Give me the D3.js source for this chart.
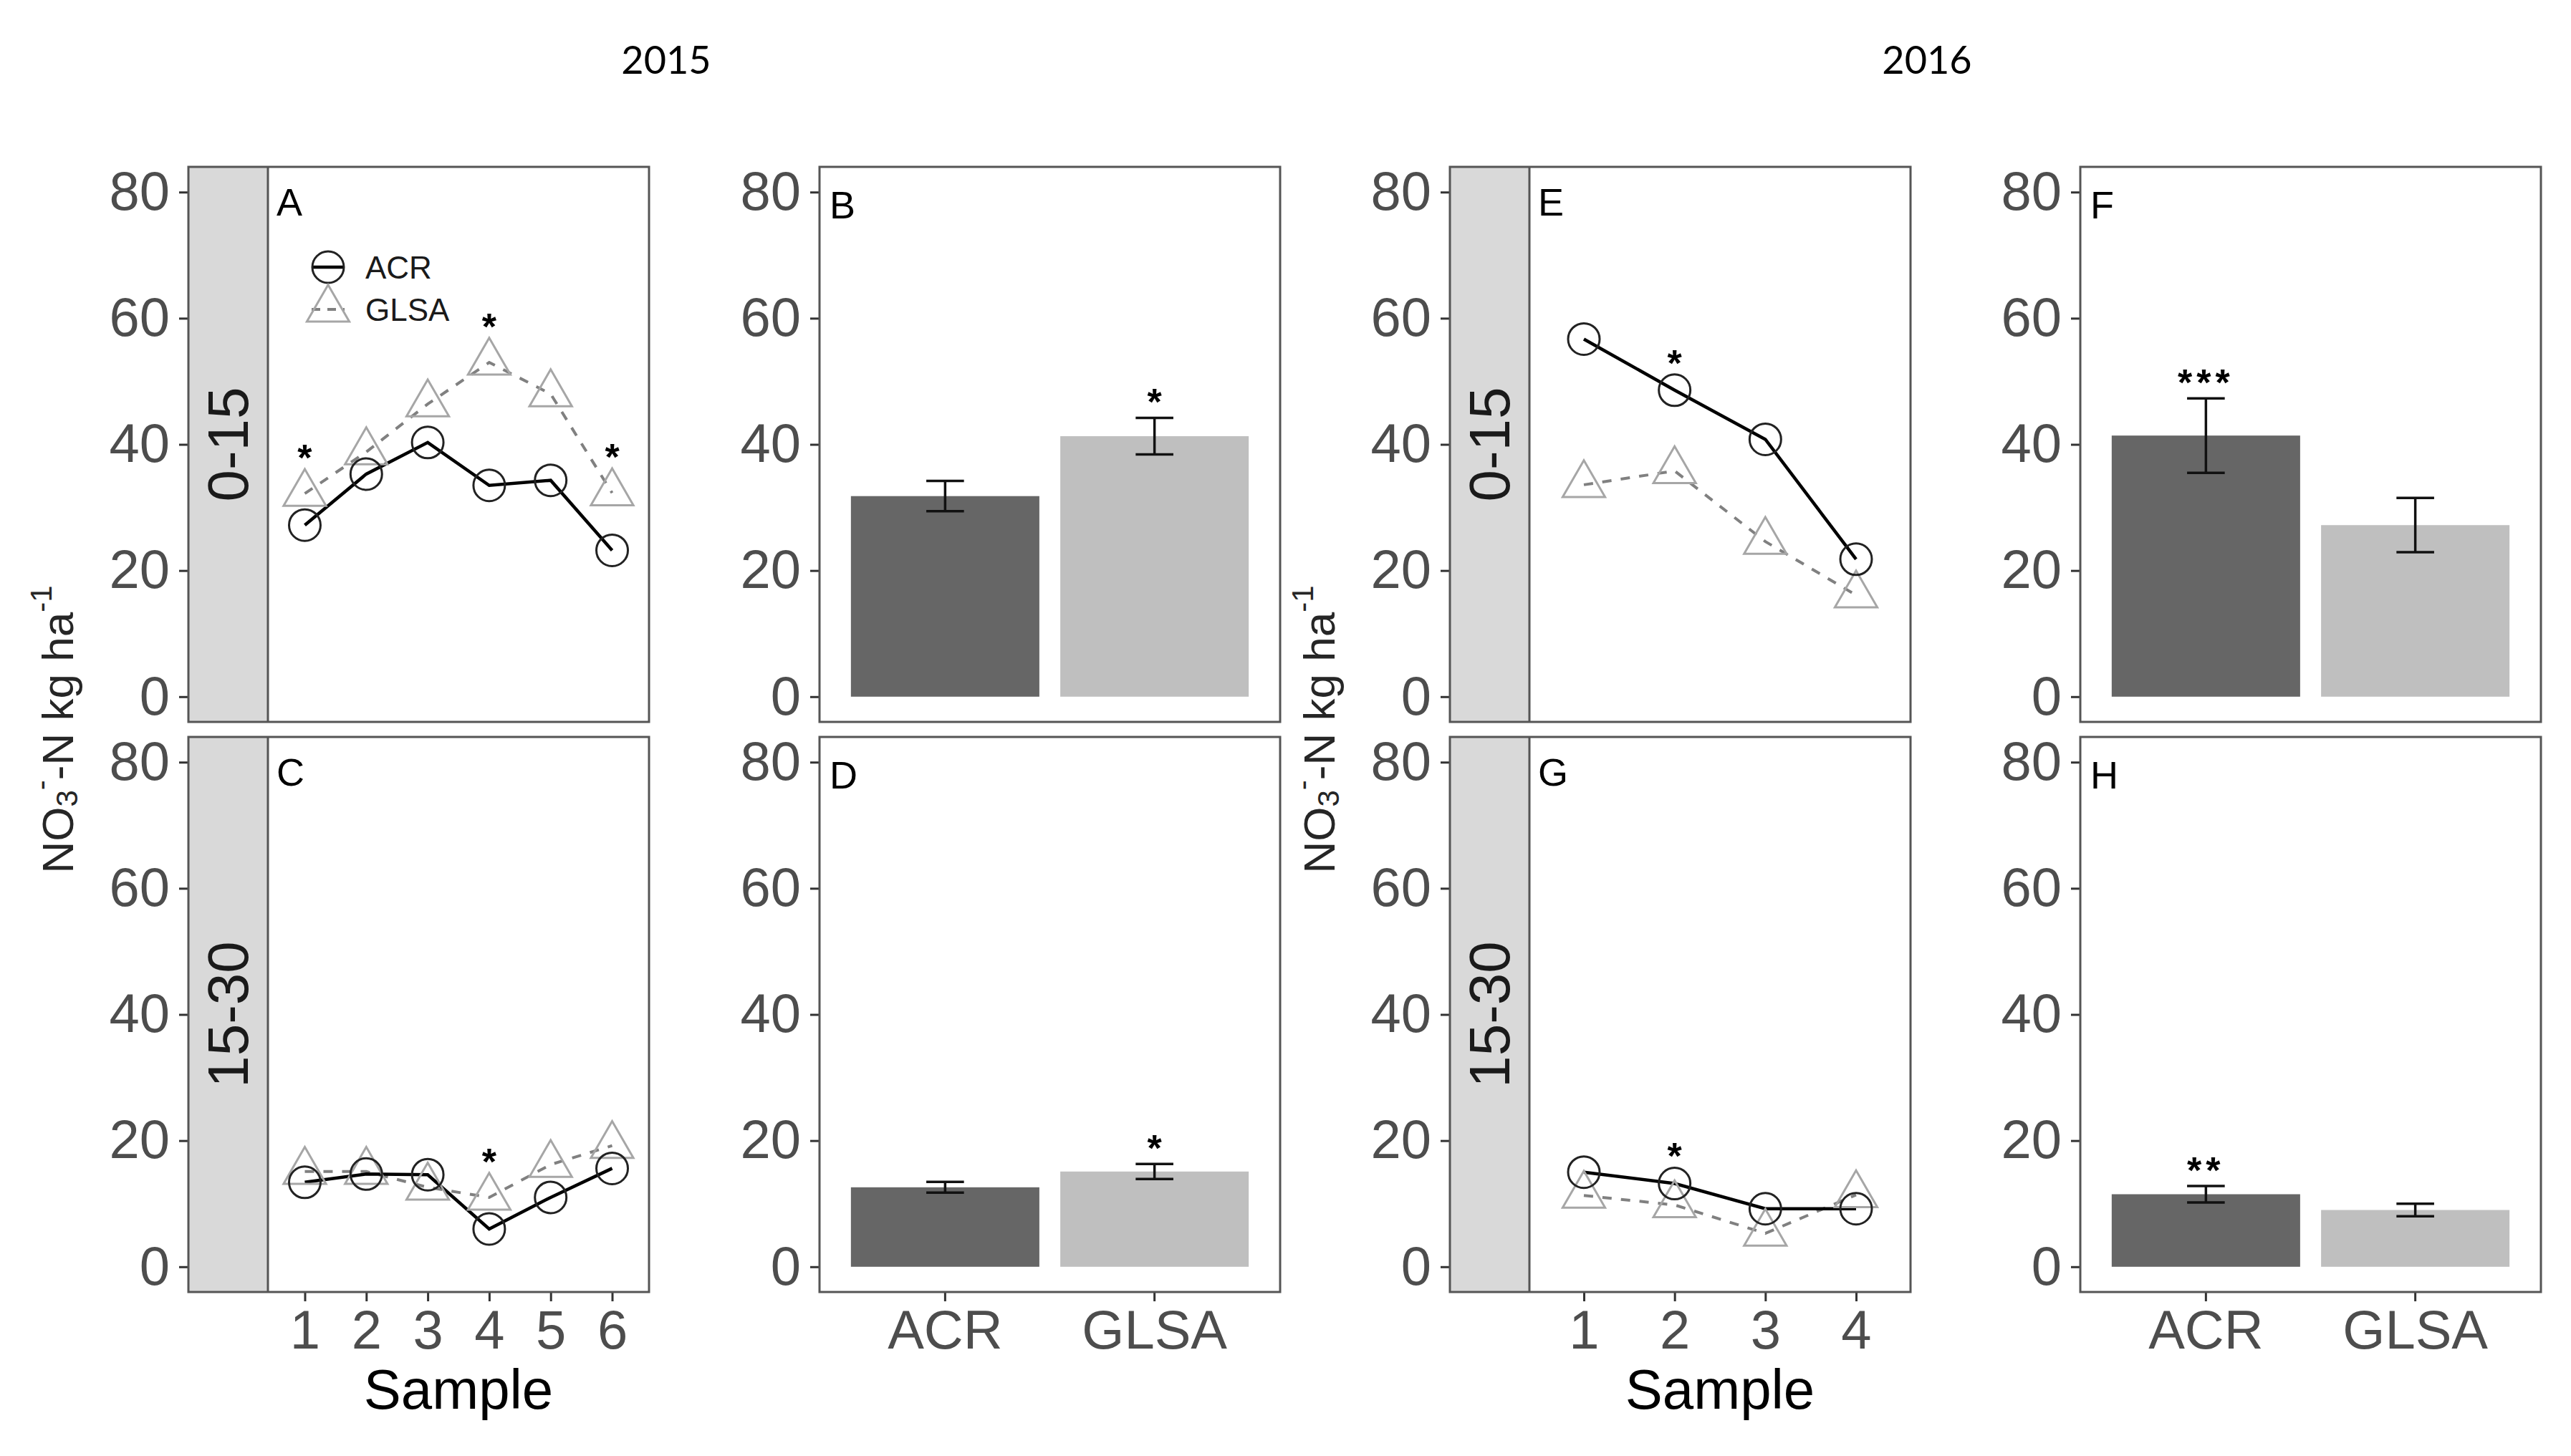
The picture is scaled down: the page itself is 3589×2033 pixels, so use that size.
<!DOCTYPE html>
<html>
<head>
<meta charset="utf-8">
<script src="https://cdn.jsdelivr.net/npm/d3@7"></script>
<style>
  body { margin: 0; background: #fff; }
  svg { display: block; }
</style>
</head>
<body>
<svg id="fig" width="3589" height="2033"></svg>
<script>
    // ---- data ----
    var samples2015 = [1, 2, 3, 4, 5, 6];
    var samples2016 = [1, 2, 3, 4];
    var treatments = ["ACR", "GLSA"];
    var yTicks = [0, 20, 40, 60, 80];

    // 2015, 0-15 cm (A) and 15-30 cm (C)
    var acrA = [27.2, 35.3, 40.3, 33.5, 34.3, 23.2];
    var glsaA = [32.2, 38.8, 46.4, 53.0, 48.0, 32.3];
    var sigA = [{ s: 1, lab: "*" }, { s: 4, lab: "*" }, { s: 6, lab: "*" }];
    var acrC = [13.4, 14.7, 14.6, 6.0, 11.0, 15.6];
    var glsaC = [15.1, 15.1, 12.6, 11.0, 16.2, 19.2];
    var sigC = [{ s: 4, lab: "*" }];

    // 2015 means (B, D)
    var meanB = [31.8, 41.3], seB = [2.4, 2.9], sigB = ["", "*"];
    var meanD = [12.6, 15.1], seD = [0.85, 1.2], sigD = ["", "*"];

    // 2016, 0-15 cm (E) and 15-30 cm (G)
    var acrE = [56.7, 48.6, 40.8, 21.8];
    var glsaE = [33.6, 35.8, 24.6, 16.1];
    var sigE = [{ s: 2, lab: "*" }];
    var acrG = [15.0, 13.2, 9.2, 9.2];
    var glsaG = [11.3, 9.8, 5.3, 11.4];
    var sigG = [{ s: 2, lab: "*" }];

    // 2016 means (F, H)
    var meanF = [41.4, 27.2], seF = [5.9, 4.3], sigF = ["***", ""];
    var meanH = [11.5, 9.0], seH = [1.3, 1.0], sigH = ["**", ""];

    // ---- layout ----
    var colLeft = [263, 1144, 2024, 2904];
    var rowTop = [233, 1029];
    var panelW = 643, panelH = 775, stripW = 111;
    var sans = "'Liberation Sans', Arial, sans-serif";
    var frameCol = "#555555";
    var tickCol = "#333333";
    var barCols = ["#666666", "#bfbfbf"];
    var symUnit = 22; // R pch size unit

    var svg = d3.select("#fig");

    function yScale() {
        return d3.scaleLinear().domain([-4, 84]).range([panelH, 0]);
    }

    function styleAxis(ax) {
        ax.select(".domain").remove();
        ax.attr("font-size", 76).attr("font-family", sans);
        ax.selectAll(".tick line").attr("stroke", tickCol).attr("stroke-width", 3);
        ax.selectAll(".tick text").attr("fill", "#4d4d4d");
    }

    function trianglePath(cx, cy, u) {
        var r = 1.5551 * u, yc = 0.7776 * u, xc = 1.3468 * u;
        return "M" + cx + "," + (cy - r) + "L" + (cx + xc) + "," + (cy + yc) + "L" + (cx - xc) + "," + (cy + yc) + "Z";
    }

    function star(g, x, yCenter, lab) {
        var fs = 52;
        g.append("text")
            .attr("x", x)
            .attr("y", yCenter + 0.575 * fs)
            .attr("text-anchor", "middle")
            .attr("font-family", sans)
            .attr("font-weight", "bold")
            .attr("font-size", fs)
            .attr("letter-spacing", lab.length > 1 ? 6 : 0)
            .text(lab);
    }

    function frame(g) {
        g.append("rect")
            .attr("x", 0).attr("y", 0)
            .attr("width", panelW).attr("height", panelH)
            .attr("fill", "none")
            .attr("stroke", frameCol)
            .attr("stroke-width", 3);
    }

    function panelLabel(g, x, y, lab) {
        g.append("text")
            .attr("x", x).attr("y", y)
            .attr("font-family", sans)
            .attr("font-size", 54)
            .attr("fill", "#000")
            .text(lab);
    }

    function linePanel(col, row, samples, acr, glsa, sig, letter, stripLab, showX, showLegend) {
        var g = svg.append("g").attr("transform", "translate(" + colLeft[col] + "," + rowTop[row] + ")");
        var x = d3.scalePoint().domain(samples).range([stripW, panelW]).padding(0.6);
        var y = yScale();

        g.append("rect")
            .attr("x", 0).attr("y", 0)
            .attr("width", stripW).attr("height", panelH)
            .attr("fill", "#d9d9d9");

        g.append("text")
            .attr("transform", "translate(" + (stripW / 2) + "," + (panelH / 2) + ") rotate(-90)")
            .attr("text-anchor", "middle")
            .attr("dominant-baseline", "central")
            .attr("font-family", sans)
            .attr("font-size", 80)
            .attr("fill", "#1a1a1a")
            .text(stripLab);

        var ay = g.append("g").call(d3.axisLeft(y).tickValues(yTicks).tickSize(13).tickPadding(13));
        styleAxis(ay);

        if (showX) {
            var ax = g.append("g")
                .attr("transform", "translate(0," + panelH + ")")
                .call(d3.axisBottom(x).tickSize(13).tickPadding(12));
            styleAxis(ax);
            g.append("text")
                .attr("x", (stripW + panelW) / 2)
                .attr("y", panelH + 163)
                .attr("text-anchor", "middle")
                .attr("font-family", sans)
                .attr("font-size", 78)
                .attr("fill", "#000")
                .text("Sample");
        }

        var line = d3.line()
            .x(function (d, i) { return x(samples[i]); })
            .y(function (d) { return y(d); });

        g.append("path").datum(glsa)
            .attr("d", line)
            .attr("fill", "none")
            .attr("stroke", "#808080")
            .attr("stroke-width", 4)
            .attr("stroke-dasharray", "13,13");

        g.append("path").datum(acr)
            .attr("d", line)
            .attr("fill", "none")
            .attr("stroke", "#000")
            .attr("stroke-width", 4.5);

        g.selectAll("path.tri").data(glsa).enter()
            .append("path")
            .attr("class", "tri")
            .attr("d", function (d, i) { return trianglePath(x(samples[i]), y(d), symUnit); })
            .attr("fill", "none")
            .attr("stroke", "#a6a6a6")
            .attr("stroke-width", 3);

        g.selectAll("circle.pt").data(acr).enter()
            .append("circle")
            .attr("class", "pt")
            .attr("cx", function (d, i) { return x(samples[i]); })
            .attr("cy", function (d) { return y(d); })
            .attr("r", symUnit)
            .attr("fill", "none")
            .attr("stroke", "#222")
            .attr("stroke-width", 3);

        sig.forEach(function (s) {
            var i = samples.indexOf(s.s);
            var topMark = Math.min(y(acr[i]) - symUnit, y(glsa[i]) - 1.5551 * symUnit);
            star(g, x(s.s), topMark - 28, s.lab);
        });

        if (showLegend) {
            var lx = 195, ly1 = 140, ly2 = 199;
            g.append("line")
                .attr("x1", lx - 23).attr("x2", lx + 23)
                .attr("y1", ly1).attr("y2", ly1)
                .attr("stroke", "#000").attr("stroke-width", 4.5);
            g.append("circle")
                .attr("cx", lx).attr("cy", ly1).attr("r", symUnit)
                .attr("fill", "none").attr("stroke", "#222").attr("stroke-width", 3);
            g.append("line")
                .attr("x1", lx - 23).attr("x2", lx + 23)
                .attr("y1", ly2).attr("y2", ly2)
                .attr("stroke", "#808080").attr("stroke-width", 4)
                .attr("stroke-dasharray", "12,10");
            g.append("path")
                .attr("d", trianglePath(lx, ly2, symUnit))
                .attr("fill", "none").attr("stroke", "#a6a6a6").attr("stroke-width", 3);
            [["ACR", ly1], ["GLSA", ly2]].forEach(function (d) {
                g.append("text")
                    .attr("x", 247).attr("y", d[1])
                    .attr("dominant-baseline", "central")
                    .attr("font-family", sans)
                    .attr("font-size", 44)
                    .attr("fill", "#1a1a1a")
                    .text(d[0]);
            });
        }

        g.append("line")
            .attr("x1", stripW).attr("x2", stripW)
            .attr("y1", 0).attr("y2", panelH)
            .attr("stroke", frameCol).attr("stroke-width", 3);
        frame(g);
        panelLabel(g, stripW + 12, 68, letter);
    }

    function barPanel(col, row, means, ses, sig, letter, showX) {
        var g = svg.append("g").attr("transform", "translate(" + colLeft[col] + "," + rowTop[row] + ")");
        var x = d3.scaleBand().domain(treatments).range([0, panelW]).paddingInner(0.1).paddingOuter(0.15);
        var y = yScale();

        var ay = g.append("g").call(d3.axisLeft(y).tickValues(yTicks).tickSize(13).tickPadding(13));
        styleAxis(ay);

        if (showX) {
            var ax = g.append("g")
                .attr("transform", "translate(0," + panelH + ")")
                .call(d3.axisBottom(x).tickSize(13).tickPadding(12));
            styleAxis(ax);
        }

        g.selectAll("rect.bar").data(means).enter()
            .append("rect")
            .attr("class", "bar")
            .attr("x", function (d, i) { return x(treatments[i]); })
            .attr("width", x.bandwidth())
            .attr("y", function (d) { return y(d); })
            .attr("height", function (d) { return y(0) - y(d); })
            .attr("fill", function (d, i) { return barCols[i]; });

        var cap = x.step() * 0.09;
        means.forEach(function (m, i) {
            var cx = x(treatments[i]) + x.bandwidth() / 2;
            var lo = y(m - ses[i]), hi = y(m + ses[i]);
            var eg = g.append("g").attr("stroke", "#111").attr("stroke-width", 3.5);
            eg.append("line").attr("x1", cx).attr("x2", cx).attr("y1", lo).attr("y2", hi);
            eg.append("line").attr("x1", cx - cap).attr("x2", cx + cap).attr("y1", lo).attr("y2", lo);
            eg.append("line").attr("x1", cx - cap).attr("x2", cx + cap).attr("y1", hi).attr("y2", hi);
            if (sig[i]) star(g, cx, hi - 34, sig[i]);
        });

        frame(g);
        panelLabel(g, 14, 72, letter);
    }

    linePanel(0, 0, samples2015, acrA, glsaA, sigA, "A", "0-15", false, true);
    linePanel(0, 1, samples2015, acrC, glsaC, sigC, "C", "15-30", true, false);
    barPanel(1, 0, meanB, seB, sigB, "B", false);
    barPanel(1, 1, meanD, seD, sigD, "D", true);
    linePanel(2, 0, samples2016, acrE, glsaE, sigE, "E", "0-15", false, false);
    linePanel(2, 1, samples2016, acrG, glsaG, sigG, "G", "15-30", true, false);
    barPanel(3, 0, meanF, seF, sigF, "F", false);
    barPanel(3, 1, meanH, seH, sigH, "H", true);

    // year titles
    [["2015", 930], ["2016", 2690]].forEach(function (t) {
        svg.append("text")
            .attr("x", t[1]).attr("y", 103)
            .attr("text-anchor", "middle")
            .attr("font-family", "Lato, 'Liberation Sans', sans-serif")
            .attr("font-size", 54)
            .attr("fill", "#000")
            .text(t[0]);
    });

    // y axis titles: NO3- -N kg ha-1
    [0, 2].forEach(function (c) {
        var t = svg.append("text")
            .attr("transform", "translate(" + (colLeft[c] - 183) + "," + ((rowTop[0] + rowTop[1] + panelH) / 2) + ") rotate(-90)")
            .attr("text-anchor", "middle")
            .attr("dominant-baseline", "central")
            .attr("font-family", sans)
            .attr("font-size", 62)
            .attr("fill", "#262626");
        t.append("tspan").text("NO");
        t.append("tspan").attr("font-size", 42).attr("dy", 13).text("3");
        t.append("tspan").attr("font-size", 42).attr("dy", -36).text("-");
        t.append("tspan").attr("dy", 23).text("-N kg ha");
        t.append("tspan").attr("font-size", 42).attr("dy", -23).text("-1");
    });
</script>
</body>
</html>
